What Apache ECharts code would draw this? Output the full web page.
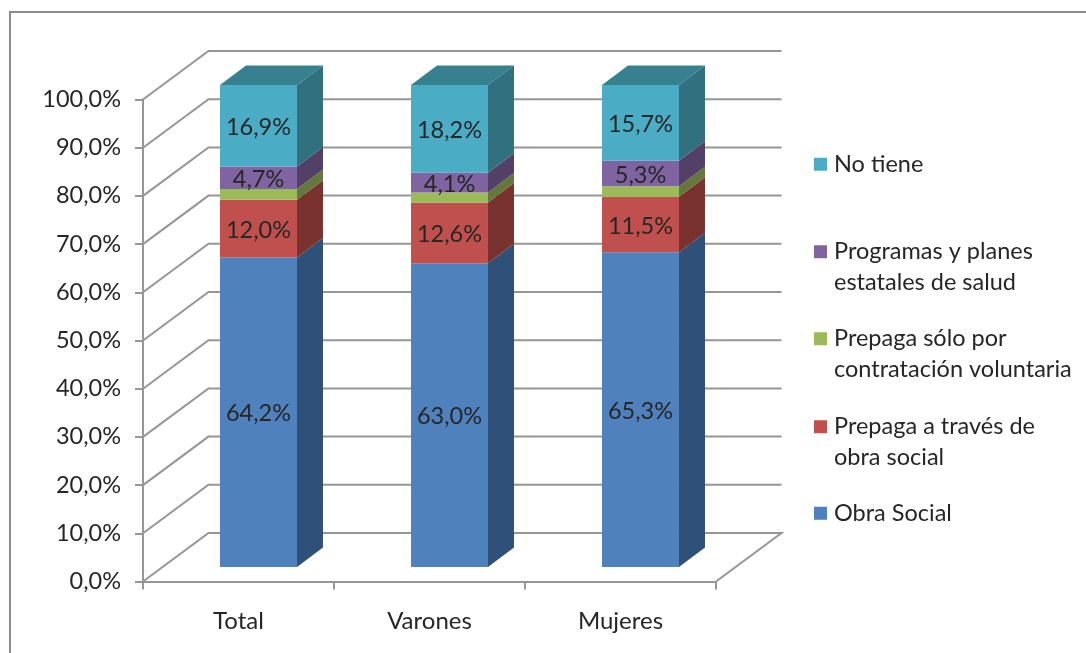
<!DOCTYPE html>
<html>
<head>
<meta charset="utf-8">
<style>html,body{margin:0;padding:0;background:#fff}#c{width:1086px;height:653px}</style>
<script src="https://cdn.jsdelivr.net/npm/echarts@6/dist/echarts.min.js"></script>
</head>
<body>
<div id="c"></div>
<script>
var categories = ['Total', 'Varones', 'Mujeres'];
var obraSocial = [64.2, 63.0, 65.3];
var prepagaObra = [12.0, 12.6, 11.5];
var prepagaVoluntaria = [2.2, 2.1, 2.2];
var programas = [4.7, 4.1, 5.3];
var noTiene = [16.9, 18.2, 15.7];
var yTicks = [0, 10, 20, 30, 40, 50, 60, 70, 80, 90, 100];

var seriesDefs = [
  {name: 'Obra Social', values: obraSocial, front: '#4f81bd', side: '#2f5078', legend: 'Obra Social', label: true},
  {name: 'Prepaga a través de obra social', values: prepagaObra, front: '#c0504d', side: '#7a322f', legend: 'Prepaga a través de\nobra social', label: true},
  {name: 'Prepaga sólo por contratación voluntaria', values: prepagaVoluntaria, front: '#9bbb59', side: '#63783a', legend: 'Prepaga sólo por\ncontratación voluntaria', label: false},
  {name: 'Programas y planes estatales de salud', values: programas, front: '#8064a2', side: '#524066', legend: 'Programas y planes\nestatales de salud', label: true},
  {name: 'No tiene', values: noTiene, front: '#4bacc6', side: '#31707f', top: '#37808f', legend: 'No tiene', label: true}
];

var FONT = 'Lato';
var TEXT = '#262626';
var LINE = '#969696';
var WALL = [65.5, -48.5];
var BAR_SHIFT = [20, -14.5];
var BAR_DEPTH = [26, -19.5];

function fmt(v) { return v.toFixed(1).replace('.', ',') + '%'; }

var series = [{
  type: 'custom',
  name: 'grid3d',
  silent: true,
  z: 1,
  data: yTicks.map(function (t) { return [0, t]; }),
  renderItem: function (params, api) {
    var cs = params.coordSys;
    var y = api.coord([0, api.value(1)])[1];
    var x0 = cs.x, x1 = cs.x + cs.width;
    var pts = [[x0, y], [x0 + WALL[0], y + WALL[1]], [x1 + WALL[0], y + WALL[1]]];
    if (api.value(1) === 0) pts.push([x1, y]);
    return {type: 'polyline', shape: {points: pts}, style: {fill: null, stroke: LINE, lineWidth: 2}};
  }
}];

seriesDefs.forEach(function (def, idx) {
  series.push({
    type: 'custom',
    name: def.name,
    z: 2 + idx,
    itemStyle: {color: def.front},
    data: def.values.map(function (v, i) {
      var start = 0;
      for (var k = 0; k < idx; k++) start += seriesDefs[k].values[i];
      return [i, start, start + v, v];
    }),
    renderItem: function (params, api) {
      var i = api.value(0);
      var a = api.coord([i, api.value(1)]);
      var b = api.coord([i, api.value(2)]);
      var w = api.size([1, 0])[0] * 0.403;
      var xl = a[0] + BAR_SHIFT[0] - w / 2, xr = xl + w;
      var yb = a[1] + BAR_SHIFT[1], yt = b[1] + BAR_SHIFT[1];
      var dx = BAR_DEPTH[0], dy = BAR_DEPTH[1];
      var kids = [
        {type: 'polygon', shape: {points: [[xr, yb], [xr + dx, yb + dy], [xr + dx, yt + dy], [xr, yt]]}, style: {fill: def.side}},
        {type: 'rect', shape: {x: xl, y: yt, width: w, height: yb - yt}, style: {fill: def.front}}
      ];
      if (def.top) {
        kids.push({type: 'polygon', shape: {points: [[xl, yt], [xl + dx, yt + dy], [xr + dx, yt + dy], [xr, yt]]}, style: {fill: def.top}});
      }
      if (def.label) {
        kids.push({type: 'text', style: {text: fmt(api.value(3)), x: (xl + xr) / 2, y: (yt + yb) / 2 + 1.5, align: 'center', verticalAlign: 'middle', fill: TEXT, font: '23.5px ' + FONT}});
      }
      return {type: 'group', children: kids};
    }
  });
});

var legendTops = {'No tiene': 164, 'Programas y planes estatales de salud': 252, 'Prepaga sólo por contratación voluntaria': 339, 'Prepaga a través de obra social': 427, 'Obra Social': 513};
var legends = seriesDefs.map(function (def) {
  var twoLines = def.legend.indexOf('\n') >= 0;
  var cy = legendTops[def.name];
  return {
    data: [def.name],
    left: 814,
    top: twoLines ? cy - 46 : cy - 15,
    orient: 'vertical',
    padding: 0,
    itemWidth: 13,
    itemHeight: 13,
    itemGap: 0,
    icon: 'rect',
    selectedMode: false,
    formatter: function () { return twoLines ? '\n' + def.legend : def.legend; },
    textStyle: {fontFamily: FONT, fontSize: 23.5, color: TEXT, lineHeight: 30.5, padding: [0, 0, 0, 2]}
  };
});

var chart = echarts.init(document.getElementById('c'), null, {renderer: 'canvas'});
chart.setOption({
  animation: false,
  backgroundColor: '#ffffff',
  graphic: [{type: 'rect', z: 0, silent: true, shape: {x: 10, y: 12, width: 1200, height: 800}, style: {fill: null, stroke: '#8c8c8c', lineWidth: 2}}],
  legend: legends,
  grid: {left: 143, right: 370, top: 99.5, bottom: 71.5, containLabel: false},
  xAxis: {
    type: 'category',
    data: categories,
    boundaryGap: true,
    axisLine: {show: true, lineStyle: {color: LINE, width: 2}},
    axisTick: {show: true, length: 8, alignWithLabel: false, lineStyle: {color: LINE, width: 2}},
    axisLabel: {fontFamily: FONT, fontSize: 24, color: TEXT, margin: 28}
  },
  yAxis: {
    type: 'value',
    min: 0,
    max: 100,
    interval: 10,
    axisLine: {show: true, lineStyle: {color: LINE, width: 2}},
    axisTick: {show: true, length: 8, lineStyle: {color: LINE, width: 2}},
    splitLine: {show: false},
    axisLabel: {fontFamily: FONT, fontSize: 23.5, color: TEXT, margin: 22, padding: [3, 0, 0, 0], formatter: function (v) { return fmt(v); }}
  },
  series: series
});
</script>
</body>
</html>
